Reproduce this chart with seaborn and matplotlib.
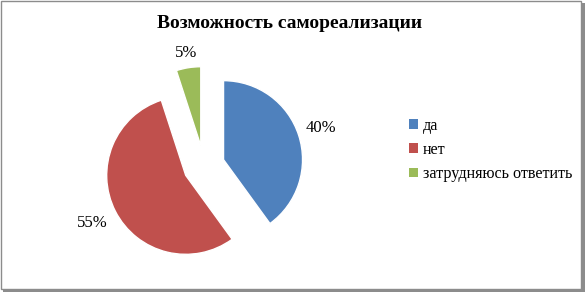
import matplotlib
matplotlib.use('Agg')
import matplotlib.pyplot as plt
from matplotlib.patches import Rectangle
import seaborn as sns

# Data
categories = ['да', 'нет', 'затрудняюсь ответить']
shares = [40, 55, 5]
slice_colors = ['#4F81BD', '#C0504D', '#9BBB59']
title = 'Возможность самореализации'

sns.set_theme(style='white')
plt.rcParams['font.family'] = ['Liberation Serif', 'DejaVu Serif']
plt.rcParams['text.color'] = 'black'

fig = plt.figure(figsize=(5.85, 2.92), dpi=100)

# outer frame with shadow (behind everything)
fig.patches.append(Rectangle((3 / 585, 0), 582 / 585, 289 / 292, transform=fig.transFigure,
                             facecolor='#8c8c8c', edgecolor='none', zorder=-10))
fig.patches.append(Rectangle((0.5 / 585, 3 / 292), 580.5 / 585, 288.5 / 292, transform=fig.transFigure,
                             facecolor='white', edgecolor='#8c8c8c', linewidth=1.0, zorder=-9))

# pie axes: center ~ (204, 166) px, radius ~ 79 px
half = 79 * 1.25
ax = fig.add_axes([(204 - half) / 585, (292 - 166 - half) / 292, 2 * half / 585, 2 * half / 292])
ax.patch.set_visible(False)
explode = 0.26
wedges, texts, autotexts = ax.pie(shares, colors=sns.color_palette(slice_colors), startangle=90,
                                  counterclock=False, explode=[explode] * len(shares),
                                  autopct='%1.0f%%', pctdistance=1.0,
                                  textprops={'fontsize': 12, 'color': 'black',
                                             'family': 'Liberation Serif'})
# per-label distance from the (shifted) slice centre, like Excel's outside-end labels
label_dist = [1.30, 1.32, 1.19]
for t, d in zip(autotexts, label_dist):
    x, y = t.get_position()
    k = (explode + d) / (explode + 1.0)
    t.set_position((x * k, y * k))
ax.set_xlim(-1.25, 1.25)
ax.set_ylim(-1.25, 1.25)
ax.set_aspect('equal')
ax.axis('off')

fig.text(290 / 585, 1 - 23 / 292, title, ha='center', va='center',
         fontsize=14, fontweight='bold', color='black')

handles = [Rectangle((0, 0), 1, 1, facecolor=c, edgecolor='none') for c in slice_colors]
fig.legend(handles, categories, loc='center left', bbox_to_anchor=(403 / 585, 1 - 150 / 292),
           frameon=False, fontsize=11.6, handlelength=0.55, handleheight=0.55,
           handletextpad=0.3, labelspacing=0.5, borderaxespad=0)

fig.savefig('out.png', dpi=100)
